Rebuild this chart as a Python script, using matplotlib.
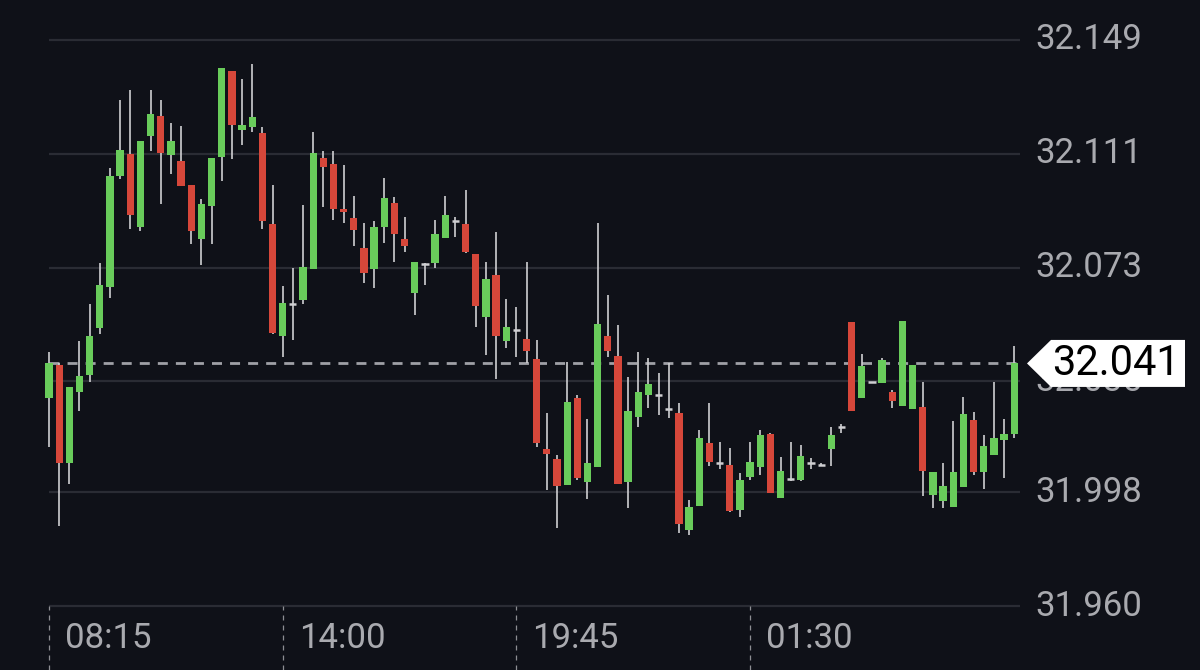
import numpy as np
import matplotlib
matplotlib.use("Agg")
import matplotlib.pyplot as plt
from matplotlib.patches import Polygon
from matplotlib.transforms import blended_transform_factory

# 15-minute candles, 08:15 -> 08:00 next day
opens = [32.0296, 32.0405, 32.0079, 32.0314, 32.0372, 32.0527, 32.0666, 32.1036, 32.1108, 32.0864,
         32.1168, 32.1236, 32.1107, 32.1087, 32.1007, 32.0827, 32.0936, 32.1099, 32.1388, 32.1188,
         32.1200, 32.1179, 32.0875, 32.0503, 32.0608, 32.0622, 32.0725, 32.1095, 32.1075, 32.0926,
         32.0895, 32.0797, 32.0724, 32.0867, 32.0945, 32.0825, 32.0646, 32.0741, 32.0744, 32.0828,
         32.0884, 32.0875, 32.0776, 32.0566, 32.0705, 32.0485, 32.0522, 32.0492, 32.0425, 32.0123,
         32.0090, 32.0004, 32.0294, 32.0015, 32.0063, 32.0502, 32.0435, 32.0015, 32.0232, 32.0305,
         32.0303, 32.0258, 32.0243, 31.9853, 31.9933, 32.0143, 32.0076, 32.0071, 31.9920, 32.0032,
         32.0063, 32.0173, 31.9962, 32.0024, 32.0022, 32.0077, 32.0072, 32.0125, 32.0197, 32.0548,
         32.0295, 32.0348, 32.0345, 32.0315, 32.0267, 32.0258, 32.0265, 31.9971, 31.9952, 31.9930,
         31.9997, 32.0222, 32.0046, 32.0103, 32.0155, 32.0175]
highs = [32.0447, 32.0410, 32.0330, 32.0485, 32.0608, 32.0747, 32.1063, 32.1290, 32.1322, 32.1153,
         32.1322, 32.1290, 32.1212, 32.1203, 32.1007, 32.0959, 32.1095, 32.1395, 32.1388, 32.1361,
         32.1409, 32.1200, 32.1007, 32.0670, 32.0729, 32.0939, 32.1182, 32.1118, 32.1120, 32.1071,
         32.0969, 32.0878, 32.0887, 32.1028, 32.0967, 32.0900, 32.0750, 32.0747, 32.0889, 32.0969,
         32.0900, 32.0990, 32.0776, 32.0748, 32.0848, 32.0625, 32.0597, 32.0748, 32.0488, 32.0246,
         32.0104, 32.0416, 32.0305, 32.0224, 32.0879, 32.0639, 32.0537, 32.0366, 32.0448, 32.0427,
         32.0377, 32.0411, 32.0277, 31.9954, 32.0188, 32.0277, 32.0146, 32.0126, 32.0045, 32.0146,
         32.0188, 32.0177, 32.0096, 32.0148, 32.0139, 32.0094, 32.0076, 32.0198, 32.0208, 32.0550,
         32.0440, 32.0349, 32.0428, 32.0320, 32.0553, 32.0404, 32.0347, 32.0049, 32.0077, 32.0217,
         32.0298, 32.0248, 32.0170, 32.0347, 32.0226, 32.0468]
lows = [32.0130, 31.9868, 32.0008, 32.0250, 32.0348, 32.0509, 32.0628, 32.1027, 32.0860, 32.0851,
        32.1120, 32.0942, 32.1042, 32.1001, 32.0810, 32.0738, 32.0810, 32.1019, 32.1091, 32.1141,
        32.1182, 32.0860, 32.0509, 32.0431, 32.0488, 32.0608, 32.0725, 32.0932, 32.0889, 32.0880,
        32.0802, 32.0680, 32.0661, 32.0811, 32.0748, 32.0781, 32.0572, 32.0672, 32.0730, 32.0828,
        32.0831, 32.0780, 32.0530, 32.0438, 32.0357, 32.0460, 32.0430, 32.0410, 32.0132, 31.9989,
        31.9859, 32.0004, 32.0020, 31.9956, 32.0063, 32.0431, 32.0009, 31.9926, 32.0199, 32.0260,
        32.0238, 32.0227, 31.9845, 31.9836, 31.9933, 32.0067, 32.0056, 31.9915, 31.9898, 32.0020,
        32.0037, 31.9976, 31.9962, 32.0016, 32.0016, 32.0057, 32.0070, 32.0066, 32.0178, 32.0250,
        32.0295, 32.0347, 32.0345, 32.0261, 32.0267, 32.0258, 31.9968, 31.9927, 31.9927, 31.9930,
        31.9997, 32.0038, 31.9990, 32.0103, 32.0027, 32.0161]
closes = [32.0410, 32.0079, 32.0330, 32.0369, 32.0500, 32.0673, 32.1036, 32.1123, 32.0905, 32.1153,
          32.1244, 32.1113, 32.1153, 32.1001, 32.0852, 32.0944, 32.1095, 32.1395, 32.1206, 32.1206,
          32.1234, 32.0884, 32.0512, 32.0612, 32.0608, 32.0733, 32.1114, 32.1067, 32.0926, 32.0915,
          32.0854, 32.0713, 32.0864, 32.0964, 32.0842, 32.0803, 32.0750, 32.0741, 32.0842, 32.0906,
          32.0884, 32.0783, 32.0603, 32.0692, 32.0502, 32.0533, 32.0522, 32.0453, 32.0143, 32.0109,
          32.0001, 32.0282, 32.0029, 32.0076, 32.0542, 32.0453, 32.0009, 32.0252, 32.0313, 32.0342,
          32.0303, 32.0258, 31.9873, 31.9929, 32.0162, 32.0080, 32.0076, 31.9918, 32.0020, 32.0080,
          32.0171, 31.9978, 32.0052, 32.0024, 32.0100, 32.0077, 32.0072, 32.0172, 32.0197, 32.0252,
          32.0403, 32.0348, 32.0423, 32.0284, 32.0553, 32.0404, 32.0052, 32.0049, 32.0001, 32.0049,
          32.0241, 32.0046, 32.0133, 32.0161, 32.0174, 32.0410]

last_price = 32.041
price_ticks = [31.960, 31.998, 32.035, 32.073, 32.111, 32.149]
price_labels = ["31.960", "31.998", "32.035", "32.073", "32.111", "32.149"]
time_ticks = [0, 23, 46, 69]
time_labels = ["08:15", "14:00", "19:45", "01:30"]

BG = "#0f1118"
GREEN = "#69cc5b"
RED = "#d6473a"
WICK = "#cfcfd2"
GRID = "#2a2c34"
TEXT = "#a9aaaf"

W, H = 1200, 670
px_per_candle = 10.16
first_px = 49
px_per_price = 566 / (price_ticks[-1] - price_ticks[0])

fig = plt.figure(figsize=(12, 6.7), dpi=100, facecolor=BG)
ax = fig.add_axes([0, 0, 1, 1], facecolor=BG)
ax.set_xlim(-first_px / px_per_candle, (W - first_px) / px_per_candle)
ax.set_ylim(price_ticks[0] - 64 / px_per_price, price_ticks[-1] + 40 / px_per_price)
ax.axis("off")

n = len(opens)
x = np.arange(n)
o = np.array(opens)
c = np.array(closes)

# grid lines + right labels (32.035 sits partly under the price tag, as in the app)
for v, lab in zip(price_ticks, price_labels):
    ax.hlines(v, 0, n - 1 + 0.6, color=GRID, lw=1.6, zorder=1)
    ax.text(1035 / W, v, lab, transform=blended_transform_factory(ax.transAxes, ax.transData),
            color=TEXT, fontsize=25, family="Roboto", va="center", ha="left")

# time axis
for t, lab in zip(time_ticks, time_labels):
    ax.vlines(t, ax.get_ylim()[0], price_ticks[0], color="#8d8e93", lw=0.9,
              linestyle=(0, (4, 4)), zorder=1)
    ax.text(t + 16 / px_per_candle, price_ticks[0] - 32 / px_per_price, lab, color=TEXT,
            fontsize=25, family="Roboto", va="center", ha="left")

# last price dashed line
ax.hlines(last_price, 0, n - 1 + 0.9, color="#9fa0a6", lw=2.0, linestyle=(0, (3.6, 2.9)), zorder=2)

# candles
ax.vlines(x, lows, highs, color=WICK, lw=1.2, zorder=3)
up = c > o
dn = c < o
flat = c == o
min_h = 2.5 / px_per_price
body = np.maximum(np.abs(c - o), min_h)
ax.bar(x[up], body[up], bottom=o[up], width=0.72, color=GREEN, zorder=4)
ax.bar(x[dn], body[dn], bottom=c[dn], width=0.72, color=RED, zorder=4)
ax.hlines(o[flat], x[flat] - 0.36, x[flat] + 0.36, color=WICK, lw=1.8, zorder=4)

# last price tag
tr = blended_transform_factory(ax.transAxes, ax.transData)
hh = 23.5 / px_per_price
tag = Polygon([(1027 / W, last_price), (1051 / W, last_price + hh), (1185 / W, last_price + hh),
               (1185 / W, last_price - hh), (1051 / W, last_price - hh)],
              closed=True, facecolor="white", edgecolor="none", transform=tr, zorder=6)
ax.add_patch(tag)
ax.text(1116 / W, last_price, f"{last_price:.3f}", transform=tr, color="black", fontsize=30,
        family="Roboto", va="center", ha="center", zorder=7)

fig.savefig("out.png", dpi=100, facecolor=BG)
